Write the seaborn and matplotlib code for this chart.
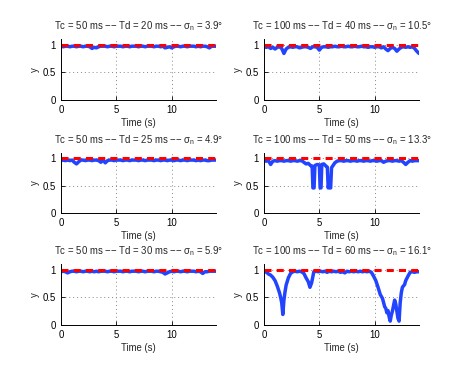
import numpy as np
import pandas as pd
import matplotlib
matplotlib.use("Agg")
import matplotlib.pyplot as plt
import seaborn as sns

# ---------------- data ----------------
t_grid = [round(0.2 * i, 1) for i in range(71)]  # 0 .. 14 s sample times

y_tc50_td20 = [0.97, 0.96, 0.97, 0.97, 0.96, 0.97, 0.97, 0.96, 0.97, 0.97,
               0.96, 0.97, 0.97, 0.96, 0.93, 0.95, 0.94, 0.96, 0.97, 0.97,
               0.97, 0.96, 0.97, 0.97, 0.96, 0.97, 0.97, 0.97, 0.96, 0.97,
               0.97, 0.96, 0.97, 0.97, 0.97, 0.96, 0.97, 0.97, 0.96, 0.97,
               0.97, 0.97, 0.96, 0.97, 0.97, 0.96, 0.97, 0.94, 0.95, 0.96,
               0.94, 0.96, 0.97, 0.97, 0.96, 0.97, 0.97, 0.96, 0.97, 0.97,
               0.97, 0.96, 0.97, 0.96, 0.97, 0.97, 0.96, 0.94, 0.97, 0.97,
               0.97]

y_tc50_td25 = [0.96, 0.97, 0.96, 0.97, 0.96, 0.97, 0.93, 0.90, 0.94, 0.97,
               0.97, 0.96, 0.97, 0.97, 0.96, 0.97, 0.97, 0.96, 0.93, 0.97,
               0.92, 0.96, 0.97, 0.97, 0.96, 0.97, 0.97, 0.97, 0.96, 0.97,
               0.97, 0.96, 0.97, 0.97, 0.97, 0.96, 0.97, 0.97, 0.96, 0.97,
               0.97, 0.97, 0.96, 0.97, 0.97, 0.96, 0.97, 0.97, 0.96, 0.97,
               0.97, 0.96, 0.97, 0.97, 0.96, 0.97, 0.97, 0.96, 0.97, 0.97,
               0.97, 0.96, 0.97, 0.96, 0.97, 0.97, 0.96, 0.96, 0.97, 0.97,
               0.97]

y_tc50_td30 = [0.96, 0.97, 0.96, 0.94, 0.96, 0.97, 0.97, 0.96, 0.97, 0.97,
               0.96, 0.97, 0.97, 0.96, 0.97, 0.96, 0.97, 0.96, 0.97, 0.97,
               0.97, 0.96, 0.97, 0.97, 0.96, 0.97, 0.97, 0.97, 0.96, 0.97,
               0.97, 0.96, 0.97, 0.97, 0.97, 0.96, 0.97, 0.97, 0.96, 0.97,
               0.97, 0.97, 0.96, 0.97, 0.97, 0.96, 0.95, 0.92, 0.94, 0.96,
               0.97, 0.96, 0.97, 0.97, 0.96, 0.97, 0.97, 0.96, 0.97, 0.97,
               0.97, 0.96, 0.97, 0.96, 0.93, 0.96, 0.96, 0.97, 0.97, 0.97,
               0.97]

y_tc100_td40 = [0.96, 0.95, 0.96, 0.93, 0.95, 0.92, 0.95, 0.96, 0.93, 0.84,
                0.92, 0.95, 0.96, 0.95, 0.96, 0.96, 0.94, 0.95, 0.96, 0.96,
                0.95, 0.93, 0.96, 0.96, 0.95, 0.90, 0.95, 0.96, 0.96, 0.95,
                0.96, 0.96, 0.97, 0.96, 0.96, 0.97, 0.96, 0.96, 0.97, 0.96,
                0.96, 0.97, 0.96, 0.96, 0.97, 0.96, 0.96, 0.95, 0.96, 0.96,
                0.95, 0.96, 0.96, 0.94, 0.96, 0.92, 0.89, 0.93, 0.95, 0.93,
                0.88, 0.92, 0.95, 0.96, 0.95, 0.96, 0.95, 0.96, 0.93, 0.88,
                0.84]

t_tc100_td50 = [0.0, 0.2, 0.4, 0.6, 0.8, 1.0, 1.2, 1.4, 1.6, 1.8, 2.0,
                2.2, 2.4, 2.6, 2.8, 3.0, 3.2, 3.4, 3.6, 3.8, 4.0, 4.2,
                4.35, 4.42, 4.52, 4.6, 4.8, 5.0, 5.07, 5.15, 5.22, 5.4, 5.6,
                5.72, 5.8, 5.87, 5.95, 6.02, 6.1, 6.2, 6.4, 6.6, 6.8,
                7.0, 7.2, 7.4, 7.6, 7.8, 8.0, 8.2, 8.4, 8.6, 8.8, 9.0, 9.2,
                9.4, 9.6, 9.8, 10.0, 10.2, 10.4, 10.6, 10.8, 11.0, 11.2, 11.4,
                11.6, 11.8, 12.0, 12.2, 12.4, 12.6, 12.8, 13.0, 13.2, 13.4,
                13.6, 13.8, 14.0]
y_tc100_td50 = [0.96, 0.95, 0.96, 0.89, 0.95, 0.96, 0.95, 0.96, 0.96, 0.95, 0.96,
                0.96, 0.95, 0.96, 0.96, 0.95, 0.96, 0.96, 0.93, 0.90, 0.91, 0.87,
                0.86, 0.46, 0.46, 0.87, 0.89, 0.88, 0.46, 0.46, 0.89, 0.90, 0.86,
                0.84, 0.46, 0.55, 0.46, 0.46, 0.83, 0.86, 0.92, 0.95, 0.96,
                0.96, 0.95, 0.96, 0.96, 0.95, 0.96, 0.96, 0.95, 0.96, 0.96, 0.95, 0.96,
                0.96, 0.95, 0.96, 0.96, 0.95, 0.96, 0.96, 0.93, 0.95, 0.96, 0.96,
                0.95, 0.96, 0.96, 0.95, 0.96, 0.93, 0.89, 0.93, 0.96, 0.95,
                0.96, 0.96, 0.96]

t_tc100_td60 = [0.0, 0.2, 0.4, 0.6, 0.8, 1.0, 1.2, 1.4, 1.5, 1.6, 1.7, 1.8, 1.9,
                2.0, 2.2, 2.4, 2.6, 2.8, 3.0, 3.2, 3.4, 3.6, 3.8, 4.0, 4.15,
                4.3, 4.5, 4.7, 4.9, 5.1, 5.3, 5.5, 5.7, 5.9, 6.1, 6.3, 6.5,
                6.7, 6.9, 7.1, 7.3, 7.5, 7.7, 7.9, 8.1, 8.3, 8.5, 8.7, 8.9,
                9.1, 9.3, 9.5, 9.7, 9.9, 10.1, 10.3, 10.5, 10.7, 10.9, 11.0,
                11.1, 11.2, 11.3, 11.4, 11.5, 11.6, 11.7, 11.8, 11.9, 12.0,
                12.1, 12.2, 12.3, 12.4, 12.5, 12.7, 12.8, 13.0, 13.2, 13.4,
                13.6, 13.8, 14.0]
y_tc100_td60 = [0.95, 0.96, 0.92, 0.90, 0.86, 0.80, 0.70, 0.58, 0.50, 0.40, 0.19, 0.45, 0.60,
                0.72, 0.85, 0.93, 0.96, 0.97, 0.96, 0.97, 0.96, 0.93, 0.85, 0.78, 0.68,
                0.76, 0.96, 0.97, 0.96, 0.97, 0.96, 0.97, 0.95, 0.97, 0.96, 0.97, 0.96,
                0.97, 0.95, 0.96, 0.94, 0.97, 0.96, 0.97, 0.96, 0.97, 0.96, 0.97, 0.96,
                0.97, 0.96, 0.97, 0.95, 0.88, 0.80, 0.68, 0.55, 0.48, 0.33, 0.30,
                0.22, 0.26, 0.15, 0.07, 0.18, 0.25, 0.35, 0.45, 0.38, 0.25,
                0.12, 0.07, 0.40, 0.58, 0.68, 0.73, 0.80, 0.88, 0.95, 0.96,
                0.95, 0.96, 0.96]

ref_t = [0.0, 14.0]
ref_y = [1.0, 1.0]

titles = [
    r"Tc = 50 ms $-$$-$ Td = 20 ms $-$$-$ $\sigma_n$ = 3.9°",
    r"Tc = 100 ms $-$$-$ Td = 40 ms $-$$-$ $\sigma_n$ = 10.5°",
    r"Tc = 50 ms $-$$-$ Td = 25 ms $-$$-$ $\sigma_n$ = 4.9°",
    r"Tc = 100 ms $-$$-$ Td = 50 ms $-$$-$ $\sigma_n$ = 13.3°",
    r"Tc = 50 ms $-$$-$ Td = 30 ms $-$$-$ $\sigma_n$ = 5.9°",
    r"Tc = 100 ms $-$$-$ Td = 60 ms $-$$-$ $\sigma_n$ = 16.1°",
]
series = [
    (t_grid, y_tc50_td20), (t_grid, y_tc100_td40),
    (t_grid, y_tc50_td25), (t_tc100_td50, y_tc100_td50),
    (t_grid, y_tc50_td30), (t_tc100_td60, y_tc100_td60),
]
x_ticks = [0, 5, 10]
y_ticks = [0, 0.5, 1]
y_ticklabels = ["0", "0.5", "1"]

# ---------------- plot ----------------
sns.set_theme(style="white")
plt.rcParams["font.family"] = ["Liberation Sans", "DejaVu Sans"]
plt.rcParams["mathtext.fontset"] = "custom"
plt.rcParams["mathtext.rm"] = "Liberation Sans"
plt.rcParams["mathtext.it"] = "Liberation Sans"

FS = 6.9
fig = plt.figure(figsize=(4.63, 3.75), dpi=100)
W, H = 463.0, 375.0
lefts = [61, 264]
rows = [(39, 100), (153, 213), (264, 325)]

for i, (title, (tx, ty)) in enumerate(zip(titles, series)):
    r, c = divmod(i, 2)
    top, bot = rows[r]
    ax = fig.add_axes([lefts[c] / W, 1 - bot / H, 155 / W, (bot - top) / H])
    ax.grid(True, linestyle=(0, (1, 3)), color="#888888", linewidth=0.7)
    ax.set_axisbelow(True)
    df = pd.DataFrame({"t": tx, "y": ty})
    sns.lineplot(data=df, x="t", y="y", ax=ax, color="#2244ff", linewidth=2.5,
                 estimator=None, sort=False)
    dref = pd.DataFrame({"t": ref_t, "y": ref_y})
    sns.lineplot(data=dref, x="t", y="y", ax=ax, color="red", linewidth=2.2,
                 estimator=None)
    ax.lines[-1].set_dashes([2.3, 1.7])
    ax.set_xlim(0, 14)
    ax.set_ylim(0, 1.1)
    ax.set_xticks(x_ticks)
    ax.set_yticks(y_ticks)
    ax.set_yticklabels(y_ticklabels)
    for s in ["top", "right"]:
        ax.spines[s].set_visible(False)
    for s in ["left", "bottom"]:
        ax.spines[s].set_color("black")
        ax.spines[s].set_linewidth(0.7)
    ax.tick_params(direction="in", length=3, width=0.6, labelsize=FS,
                   pad=3.5, colors="black", left=True, bottom=True)
    ax.set_xlabel("Time (s)", fontsize=FS, labelpad=2)
    ax.set_ylabel("y", fontsize=FS, labelpad=2)
    ax.set_title(title, fontsize=FS, pad=7)

fig.savefig("out.png", dpi=100)
